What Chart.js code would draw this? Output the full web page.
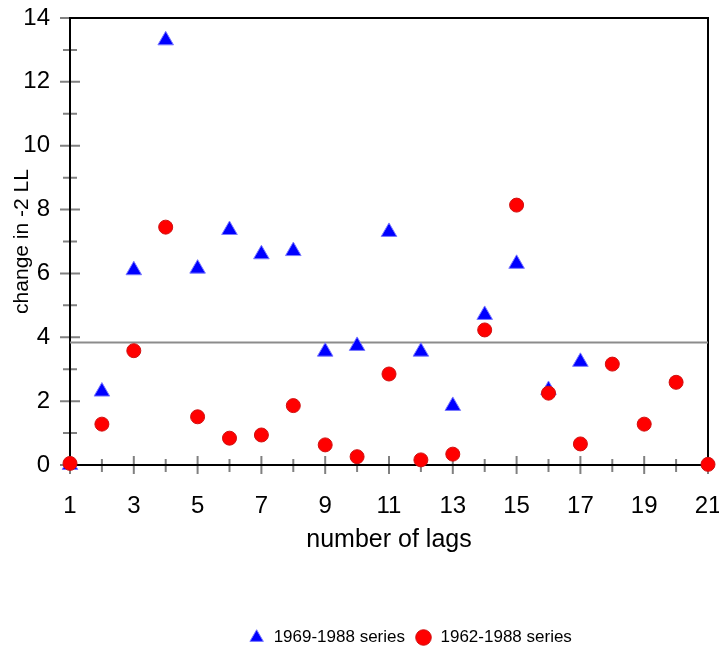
<!DOCTYPE html>
<html>
<head>
<meta charset="utf-8">
<script src="https://cdn.jsdelivr.net/npm/chart.js@4.4.0/dist/chart.umd.min.js"></script>
<style>
html, body { margin: 0; padding: 0; background: #fff; }
</style>
</head>
<body>
<canvas id="lags-chart" width="719" height="649"></canvas>
<script>
// values
let lags69 = [1, 2, 3, 4, 5, 6, 7, 8, 9, 10, 11, 12, 13, 14, 15, 16, 17];
let series69 = [0, 2.3, 6.1, 13.3, 6.15, 7.36, 6.6, 6.7, 3.55, 3.73, 7.3, 3.55, 1.85, 4.7, 6.3, 2.35, 3.23];
let lags62 = [1, 2, 3, 4, 5, 6, 7, 8, 9, 10, 11, 12, 13, 14, 15, 16, 17, 18, 19, 20, 21];
let series62 = [0.05, 1.28, 3.58, 7.45, 1.51, 0.84, 0.94, 1.86, 0.63, 0.26, 2.85, 0.16, 0.34, 4.23, 8.14, 2.25, 0.66, 3.16, 1.28, 2.59, 0.02];
let criticalValue = 3.84;
let xLabels = [1, 3, 5, 7, 9, 11, 13, 15, 17, 19, 21];
let yLabels = [0, 2, 4, 6, 8, 10, 12, 14];
let seriesNames = ["1969-1988 series", "1962-1988 series"];

const toPoints = (xs, ys) => xs.map((x, i) => ({x: x, y: ys[i]}));

// gray tick marks crossing the axes + top/right frame
const axisDecor = {
	id: 'axisDecor',
	beforeDraw(chart) {
		const ctx = chart.ctx;
		const a = chart.chartArea;
		const x = chart.scales.x, y = chart.scales.y;
		ctx.save();
		ctx.strokeStyle = '#808080';
		ctx.lineWidth = 2;
		ctx.beginPath();
		for (let v = y.min; v <= y.max; v++) {
			let py = y.getPixelForValue(v);
			let half = v % 2 === 0 ? 10 : 7;
			ctx.moveTo(a.left - half, py);
			ctx.lineTo(a.left + half, py);
		}
		for (let v = x.min; v <= x.max; v++) {
			let px = x.getPixelForValue(v);
			let up = v % 2 === 1 ? 9 : 6;
			let down = v % 2 === 1 ? 9 : 7;
			ctx.moveTo(px, a.bottom - up);
			ctx.lineTo(px, a.bottom + down);
		}
		ctx.stroke();
		ctx.strokeStyle = '#000';
		ctx.beginPath();
		ctx.moveTo(a.left, a.top);
		ctx.lineTo(a.right, a.top);
		ctx.lineTo(a.right, a.bottom);
		ctx.stroke();
		ctx.restore();
	}
};

// nudge the legend to where the original put it
const legendShift = {
	id: 'legendShift',
	afterLayout(chart) {
		const lg = chart.legend;
		lg.left += 56; lg.right += 56;
		lg.top += 7; lg.bottom += 7;
	}
};

const ctx = document.getElementById('lags-chart');
new Chart(ctx, {
	type: 'scatter',
	data: {
		datasets: [{
			label: seriesNames[0],
			data: toPoints(lags69, series69),
			pointStyle: 'triangle',
			pointRadius: 9,
			backgroundColor: '#0000ff',
			borderColor: '#7a7aff',
			borderWidth: 1,
			clip: false,
			order: 1
		}, {
			label: seriesNames[1],
			data: toPoints(lags62, series62),
			pointStyle: 'circle',
			pointRadius: 7,
			backgroundColor: '#ff0000',
			borderColor: '#d01010',
			borderWidth: 1,
			clip: false,
			order: 0
		}, {
			type: 'line',
			label: 'critical',
			data: [{x: 1, y: criticalValue}, {x: 21, y: criticalValue}],
			borderColor: '#8c8c8c',
			borderWidth: 2,
			pointRadius: 0,
			order: 2
		}]
	},
	options: {
		responsive: false,
		animation: false,
		devicePixelRatio: 1,
		layout: { padding: { top: 18, right: 11, left: 0, bottom: 0 } },
		plugins: {
			tooltip: { enabled: false },
			legend: {
				position: 'bottom',
				labels: {
					usePointStyle: true,
					boxHeight: 11,
					padding: 10,
					color: '#000',
					font: { family: 'Liberation Sans, Arial, sans-serif', size: 17 },
					filter: (item) => item.datasetIndex < 2,
					sort: (a, b) => a.datasetIndex - b.datasetIndex
				}
			}
		},
		scales: {
			x: {
				type: 'linear',
				min: 1,
				max: 21,
				afterFit: (s) => { s.height = 147; s.paddingLeft = 0; s.paddingRight = 0; },
				grid: { display: false, drawTicks: false },
				border: { display: true, color: '#000', width: 2 },
				ticks: {
					stepSize: 1,
					autoSkip: false,
					maxRotation: 0,
					padding: 27,
					color: '#000',
					font: { family: 'Liberation Sans, Arial, sans-serif', size: 24 },
					callback: (v) => xLabels.includes(v) ? String(v) : ''
				},
				title: {
					display: true,
					text: 'number of lags',
					color: '#000',
					font: { family: 'Liberation Sans, Arial, sans-serif', size: 25 },
					padding: { top: 0, bottom: 57 }
				}
			},
			y: {
				min: 0,
				max: 14,
				afterFit: (s) => { s.width = 70; s.paddingTop = 0; s.paddingBottom = 0; },
				grid: { display: false, drawTicks: false },
				border: { display: true, color: '#000', width: 2 },
				ticks: {
					stepSize: 2,
					padding: 20,
					color: '#000',
					font: { family: 'Liberation Sans, Arial, sans-serif', size: 24 },
					callback: (v) => yLabels.includes(v) ? String(v) : ''
				},
				title: {
					display: true,
					text: 'change in -2 LL',
					color: '#000',
					font: { family: 'Liberation Sans, Arial, sans-serif', size: 21 },
					padding: { top: 10, bottom: 0 }
				}
			}
		}
	},
	plugins: [axisDecor, legendShift]
});
</script>
</body>
</html>
